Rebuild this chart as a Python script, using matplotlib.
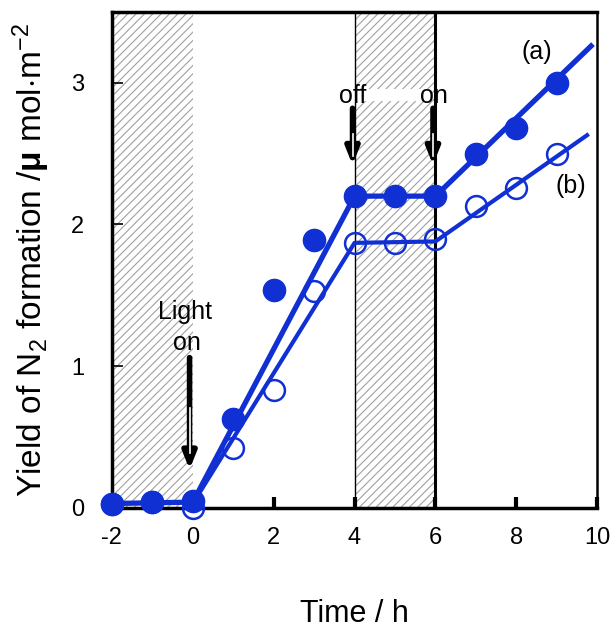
import numpy as np
import matplotlib
matplotlib.use("Agg")
import matplotlib.pyplot as plt
from matplotlib.patches import Rectangle

plt.rcParams['font.family'] = ['Liberation Sans', 'DejaVu Sans']
plt.rcParams['mathtext.fontset'] = 'custom'
plt.rcParams['mathtext.rm'] = 'Liberation Sans'
plt.rcParams['mathtext.it'] = 'Liberation Sans:italic'
plt.rcParams['mathtext.bf'] = 'Liberation Sans:bold'
plt.rcParams['axes.unicode_minus'] = False
plt.rcParams['hatch.color'] = '#a0a0a0'
plt.rcParams['hatch.linewidth'] = 0.8

# measured points
time = [-2, -1, 0, 1, 2, 3, 4, 5, 6, 7, 8, 9]
yield_a = [0.03, 0.04, 0.05, 0.63, 1.54, 1.89, 2.2, 2.2, 2.2, 2.5, 2.68, 3.0]
yield_b = [0.03, 0.04, 0.0, 0.42, 0.83, 1.53, 1.87, 1.87, 1.9, 2.13, 2.26, 2.5]

# fitted lines
fit_a_t = [-2, 0, 4, 6, 9.85]
fit_a_y = [0.03, 0.04, 2.2, 2.2, 3.26]
fit_b_t = [0, 4, 6, 9.75]
fit_b_y = [0.03, 1.87, 1.88, 2.63]

dark_spans = [(-2, 0), (4, 6)]
blue = '#1030d4'

fig = plt.figure(figsize=(6.15, 6.3), dpi=100)
ax = fig.add_axes([0.182, 0.194, 0.789, 0.787])

for x0, x1 in dark_spans:
    ax.add_patch(Rectangle((x0, 0), x1 - x0, 3.5, facecolor='white',
                           edgecolor='#a0a0a0', hatch='////', linewidth=0, zorder=0))

ax.axvline(4, color='black', lw=1.0, zorder=1)
ax.axvline(6, color='black', lw=2.2, zorder=1)

ax.plot(fit_a_t, fit_a_y, color=blue, lw=3.8, zorder=3, clip_on=False)
ax.plot(fit_b_t, fit_b_y, color=blue, lw=3.0, zorder=3, clip_on=False)
ax.plot(time, yield_b, 'o', ms=15, mfc='none', mec=blue, mew=1.8, zorder=4, clip_on=False)
ax.plot(time, yield_a, 'o', ms=16, color=blue, zorder=5, clip_on=False)

# arrows
def arrow(x, y0, y1):
    ax.annotate('', xy=(x, y1), xytext=(x, y0),
                arrowprops=dict(arrowstyle='-|>,head_length=1.0,head_width=0.4',
                                color='black', lw=4.0, shrinkA=0, shrinkB=0),
                zorder=6)
    mid = y1 + (y0 - y1) * 0.15
    ax.plot([x, x], [mid, y0 - (y0 - y1) * 0.45], color='white', lw=1.2, zorder=7)

arrow(-0.08, 1.06, 0.27)
arrow(3.95, 2.82, 2.42)
arrow(5.94, 2.82, 2.42)

ax.add_patch(Rectangle((4.05, 2.87), 1.85, 0.085, facecolor='white', edgecolor='none', zorder=2))
ax.text(-0.2, 1.38, 'Light', ha='center', va='center', fontsize=18, zorder=8)
ax.text(-0.15, 1.16, 'on', ha='center', va='center', fontsize=18, zorder=8)
ax.text(3.95, 2.91, 'off', ha='center', va='center', fontsize=18, zorder=8)
ax.text(5.97, 2.91, 'on', ha='center', va='center', fontsize=18, zorder=8)
ax.text(8.5, 3.22, '(a)', ha='center', va='center', fontsize=18)
ax.text(9.35, 2.27, '(b)', ha='center', va='center', fontsize=18)

ax.set_xlim(-2, 10)
ax.set_ylim(0, 3.5)
ax.set_xticks([-2, 0, 2, 4, 6, 8, 10])
ax.set_yticks([0, 1, 2, 3])
ax.tick_params(axis='x', direction='in', length=8, width=3, labelsize=17, pad=14)
ax.tick_params(axis='y', direction='in', length=8, width=1.2, labelsize=17, pad=20)
for s in ax.spines.values():
    s.set_linewidth(2.5)
ax.spines['right'].set_linewidth(1.8)

ax.set_xlabel('Time / h', fontsize=22, labelpad=36)
ax.set_ylabel(r'Yield of N$_2$ formation /$\mathbf{\mu}$ mol$\cdot$m$^{-2}$',
              fontsize=24, labelpad=14)

fig.savefig('out.png', dpi=100)
